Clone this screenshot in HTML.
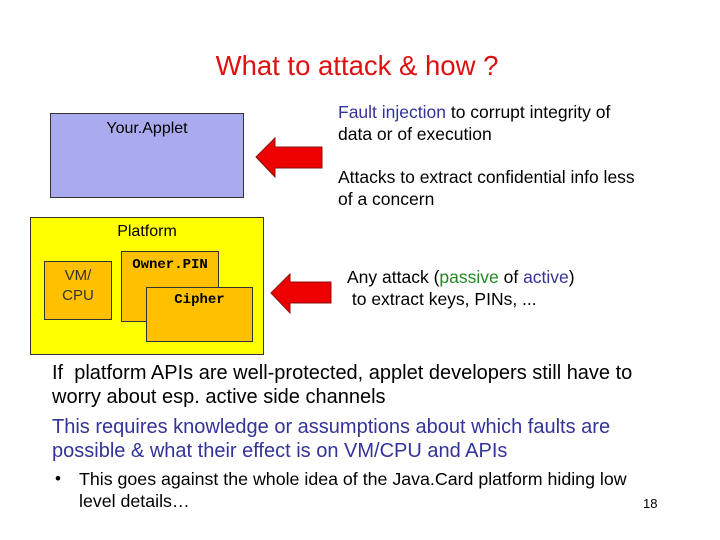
<!DOCTYPE html>
<html><head><style>
body{margin:0;width:720px;height:540px;background:#fff;position:relative;font-family:"Liberation Sans",sans-serif;overflow:hidden}
.a{position:absolute;white-space:nowrap}
.box{position:absolute;border:1px solid #333;box-sizing:border-box}
.b{color:#333399}.g{color:#228822}
.mono{font-family:"Liberation Mono",monospace;font-weight:bold;font-size:14px}
</style></head><body>
<div class="a" style="left:0;width:714px;text-align:center;top:50px;font-size:27.5px;color:#dd1111">What to attack &amp; how ?</div>
<div class="box" style="left:50px;top:113px;width:194px;height:85px;background:#aaaaee"></div>
<div class="a" style="left:50px;width:194px;text-align:center;top:120px;font-size:16px">Your.Applet</div>
<div class="box" style="left:30px;top:217px;width:234px;height:138px;background:#ffff00"></div>
<div class="a" style="left:30px;width:234px;text-align:center;top:223px;font-size:16px">Platform</div>
<div class="box" style="left:44px;top:261px;width:68px;height:59px;background:#ffc000"></div>
<div class="a" style="left:44px;width:68px;text-align:center;top:266px;font-size:15px;color:#333;line-height:20px">VM/<br>CPU</div>
<div class="box" style="left:121px;top:251px;width:98px;height:71px;background:#ffc000"></div>
<div class="a mono" style="left:121px;width:98px;text-align:center;top:257px">Owner.PIN</div>
<div class="box" style="left:146px;top:287px;width:107px;height:55px;background:#ffc000"></div>
<div class="a mono" style="left:146px;width:107px;text-align:center;top:292px">Cipher</div>
<svg class="a" style="left:0;top:0" width="720" height="540">
<polygon points="256,157 275,138 275,147 322,147 322,168 275,168 275,177" fill="#ee0000" stroke="#881111" stroke-width="1"/>
<polygon points="271,293 290,274 290,282 331,282 331,303 290,303 290,313" fill="#ee0000" stroke="#881111" stroke-width="1"/>
</svg>
<div class="a" style="left:338px;top:101px;font-size:17.5px;line-height:22px"><span class="b">Fault injection</span> to corrupt integrity of<br>data or of execution</div>
<div class="a" style="left:338px;top:166px;font-size:17.5px;line-height:22px">Attacks to extract confidential info less<br>of a concern</div>
<div class="a" style="left:347px;top:266px;font-size:17.5px;line-height:22px">Any attack (<span class="g">passive</span> of <span class="b">active</span>)<br>&nbsp;to extract keys, PINs, ...</div>
<div class="a" style="left:52px;top:361px;font-size:20px;line-height:24px">If &nbsp;platform APIs are well-protected, applet developers still have to<br>worry about esp. active side channels</div>
<div class="a b" style="left:52px;top:415px;font-size:20px;line-height:24px">This requires knowledge or assumptions about which faults are<br>possible &amp; what their effect is on VM/CPU and APIs</div>
<div class="a" style="left:55px;top:469px;font-size:17px">•</div>
<div class="a" style="left:79px;top:468px;font-size:17.8px;line-height:22px">This goes against the whole idea of the Java.Card platform hiding low<br>level details…</div>
<div class="a" style="left:643px;top:496px;font-size:13px">18</div>
</body></html>
